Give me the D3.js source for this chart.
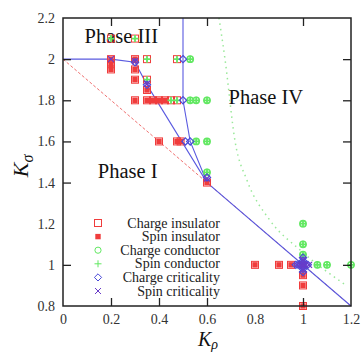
<!DOCTYPE html>
<html>
<head>
<meta charset="utf-8">
<script src="https://cdn.jsdelivr.net/npm/d3@7"></script>
<style>
body{margin:0;background:#fff;}
svg{display:block;}
svg text{font-family:"Liberation Serif","Times New Roman",serif;}
</style>
</head>
<body>
<svg id="chart"></svg>
<script>
// ---- data ----
var xTicks = [0, 0.2, 0.4, 0.6, 0.8, 1, 1.2];
var yTicks = [0.8, 1, 1.2, 1.4, 1.6, 1.8, 2, 2.2];

var chargeInsulator = [[0.2,2.1],[0.3,2.1],[0.2,2.0],[0.2,1.975],[0.2,1.95],[0.3,2.0],[0.3,1.95],[0.3,1.9],[0.3,1.8],
  [0.35,2.0],[0.475,2.0],[0.35,1.9],[0.35,1.85],[0.35,1.8],[0.375,1.8],[0.4,1.8],[0.425,1.8],[0.45,1.8],[0.475,1.8],
  [0.4,1.6],[0.475,1.6],[0.49,1.6],[0.6,1.4],[0.8,1],[0.9,1],[0.95,1],[1,0.95],[1,0.9],[1,0.8]];
var spinInsulator = [[0.2,2.0],[0.2,1.975],[0.2,1.95],[0.3,2.0],[0.3,1.95],[0.3,1.9],[0.3,1.8],[0.35,1.85],[0.35,1.8],
  [0.375,1.8],[0.4,1.8],[0.425,1.8],[0.4,1.6],[0.475,1.6],[0.49,1.6],[0.6,1.4],[0.8,1],[0.9,1],[0.95,1],[1,0.95],[1,0.9],[1,0.8]];
var chargeConductor = [[0.53,2.0],[0.53,1.8],[0.555,1.8],[0.6,1.8],[0.555,1.6],[0.6,1.6],[0.6,1.45],
  [1,1.2],[1,1.1],[1,1.05],[1.06,1],[1.1,1],[1.2,1]];
var spinConductor = [[0.2,2.1],[0.3,2.1],[0.35,2.0],[0.475,2.0],[0.35,1.9],[0.45,1.8],[0.475,1.8],
  [0.53,2.0],[0.53,1.8],[0.555,1.8],[0.6,1.8],[0.555,1.6],[0.6,1.6],[0.6,1.45],
  [1,1.2],[1,1.1],[1,1.05],[1.06,1],[1.1,1],[1.2,1]];
var chargeCriticality = [[0.3,1.985],[0.35,1.875],[0.5,2.0],[0.5,1.8],[0.51,1.6],[0.53,1.6],[0.6,1.425],
  [0.97,1],[0.98,1],[0.99,1],[1,1],[1.01,1],[1.02,1],[1,1.035],[1,1.02],[1,1.01],[1,0.99],[1,0.98],[1,0.965]];
var spinCriticality = [[0.2,2.0],[0.3,1.99],[0.35,1.88],[0.6,1.42],[0.975,1],[0.99,1],[1,1],[1.01,1],[1.025,1],[1,1.025],[1,0.975]];

var boundaryA = [[0,2],[0.2,2],[0.3,1.985],[0.35,1.875],[0.6,1.4],[1.2,0.8]];
var boundaryB = [[0.5,2.2],[0.5,1.8],[0.53,1.6],[0.6,1.4]];
var phaseIVLine = [[0.65,2.2],[0.675,2.0],[0.717,1.6],[0.767,1.41],[0.86,1.22],[0.99,1.07],[1.18,0.9]];
var guessLine = [[0,2],[1.2,0.8]];

var phaseLabels = [["Phase III",0.09,2.08],["Phase IV",0.69,1.78],["Phase I",0.145,1.42]];
var legendNames = ["Charge insulator","Spin insulator","Charge conductor","Spin conductor","Charge criticality","Spin criticality"];

// ---- layout ----
var W = 363, H = 354;
var margins = {left:63, right:12, top:18, bottom:48};
var svg = d3.select("#chart").attr("width",W).attr("height",H);

var xScale = d3.scaleLinear().domain([0,1.2]).range([margins.left, W-margins.right]);
var yScale = d3.scaleLinear().domain([0.8,2.2]).range([H-margins.bottom, margins.top]);

var red = "#f03c3c", green = "#62e862", blue = "#4a4ad8", purple = "#6a3cc8";

// phase labels sit under the marks
svg.selectAll(".phase").data(phaseLabels).enter().append("text")
  .attr("class","phase")
  .attr("x",function(d){return xScale(d[1]);})
  .attr("y",function(d){return yScale(d[2]);})
  .attr("font-size",20.5).attr("fill","#111")
  .text(function(d){return d[0];});

// lines
var line = d3.line().x(function(d){return xScale(d[0]);}).y(function(d){return yScale(d[1]);});
var curve = d3.line().curve(d3.curveMonotoneX).x(function(d){return xScale(d[0]);}).y(function(d){return yScale(d[1]);});

svg.append("path").attr("d",line(guessLine)).attr("fill","none")
  .attr("stroke","#f07070").attr("stroke-width",1).attr("stroke-dasharray","3,2");
svg.append("path").attr("d",curve(phaseIVLine)).attr("fill","none")
  .attr("stroke","#9ae89a").attr("stroke-width",1.5).attr("stroke-dasharray","1.5,4");
svg.append("path").attr("d",line(boundaryA)).attr("fill","none").attr("stroke","#5a5ae0").attr("stroke-width",1.1);
svg.append("path").attr("d",line(boundaryB)).attr("fill","none").attr("stroke","#5a5ae0").attr("stroke-width",1.1);

// marker drawers
var drawSymbol = {
  chargeInsulator: function(g){ g.append("rect").attr("x",-3.5).attr("y",-3.5).attr("width",7).attr("height",7)
      .attr("fill","none").attr("stroke",red).attr("stroke-width",1); },
  spinInsulator: function(g){ g.append("rect").attr("x",-2.7).attr("y",-2.7).attr("width",5.4).attr("height",5.4)
      .attr("fill",red); },
  chargeConductor: function(g){ g.append("circle").attr("r",3.1).attr("fill","none").attr("stroke",green).attr("stroke-width",1.6); },
  spinConductor: function(g){ g.append("path").attr("d","M-3.5,0H3.5M0,-3.5V3.5").attr("stroke",green).attr("stroke-width",1.8); },
  chargeCriticality: function(g){ g.append("path").attr("d","M0,-3.6L3.6,0L0,3.6L-3.6,0Z").attr("fill","none")
      .attr("stroke",blue).attr("stroke-width",1.2); },
  spinCriticality: function(g){ g.append("path").attr("d","M-3,-3L3,3M-3,3L3,-3").attr("stroke",purple).attr("stroke-width",1.3); }
};

var series = [
  ["chargeInsulator",chargeInsulator],["spinInsulator",spinInsulator],
  ["chargeConductor",chargeConductor],["spinConductor",spinConductor],
  ["chargeCriticality",chargeCriticality],["spinCriticality",spinCriticality]
];

series.forEach(function(s){
  svg.append("g").selectAll("g").data(s[1]).enter().append("g")
    .attr("transform",function(d){return "translate("+xScale(d[0])+","+yScale(d[1])+")";})
    .each(function(){ drawSymbol[s[0]](d3.select(this)); });
});

// frame + inward ticks on all sides
var x0 = margins.left, x1 = W-margins.right, y0 = margins.top, y1 = H-margins.bottom;
svg.append("g").attr("transform","translate(0,"+y1+")")
  .call(d3.axisBottom(xScale).tickValues(xTicks).tickSize(-8).tickFormat(d3.format("~g")).tickPadding(8))
  .call(function(g){ g.select(".domain").remove(); });
svg.append("g").attr("transform","translate(0,"+y0+")")
  .call(d3.axisTop(xScale).tickValues(xTicks).tickSize(-8).tickFormat(""))
  .call(function(g){ g.select(".domain").remove(); });
svg.append("g").attr("transform","translate("+x0+",0)")
  .call(d3.axisLeft(yScale).tickValues(yTicks).tickSize(-8).tickFormat(d3.format("~g")).tickPadding(8))
  .call(function(g){ g.select(".domain").remove(); });
svg.append("g").attr("transform","translate("+x1+",0)")
  .call(d3.axisRight(yScale).tickValues(yTicks).tickSize(-8).tickFormat(""))
  .call(function(g){ g.select(".domain").remove(); });

svg.selectAll(".tick").each(function(){ d3.select(this.parentNode).attr("font-family",null); });
svg.selectAll(".tick line").attr("stroke","#222").attr("stroke-width",1.3);
svg.selectAll(".tick text").attr("font-size",14).attr("fill","#333");
svg.selectAll(".tick").filter(function(d){return d===0.8||d===2.2||d===0||d===1.2;}).select("line").remove();

svg.append("rect").attr("x",x0).attr("y",y0).attr("width",x1-x0).attr("height",y1-y0)
  .attr("fill","none").attr("stroke","#222").attr("stroke-width",1.5);

// legend
var leg = svg.append("g").attr("transform","translate(0,223)");
legendNames.forEach(function(name,i){
  var row = leg.append("g").attr("transform","translate(0,"+(i*13.6)+")");
  row.append("text").attr("x",220).attr("y",4.5).attr("text-anchor","end")
    .attr("font-size",14).attr("fill","#222").text(name);
  var sym = row.append("g").attr("transform","translate(98,0)");
  drawSymbol[series[i][0]](sym);
  sym.selectAll("*").attr("stroke-width",1);
});

// axis titles
var xt = svg.append("text").attr("x",208).attr("y",346).attr("text-anchor","middle")
  .attr("font-size",20).attr("font-style","italic").attr("fill","#111");
xt.append("tspan").text("K");
xt.append("tspan").attr("dy",3).attr("font-size",14).text("ρ");

var yt = svg.append("text").attr("transform","translate(28,166) rotate(-90)").attr("text-anchor","middle")
  .attr("font-size",22).attr("font-style","italic").attr("fill","#111");
yt.append("tspan").text("K");
yt.append("tspan").attr("dy",5).attr("font-size",16).text("σ");
</script>
</body>
</html>
